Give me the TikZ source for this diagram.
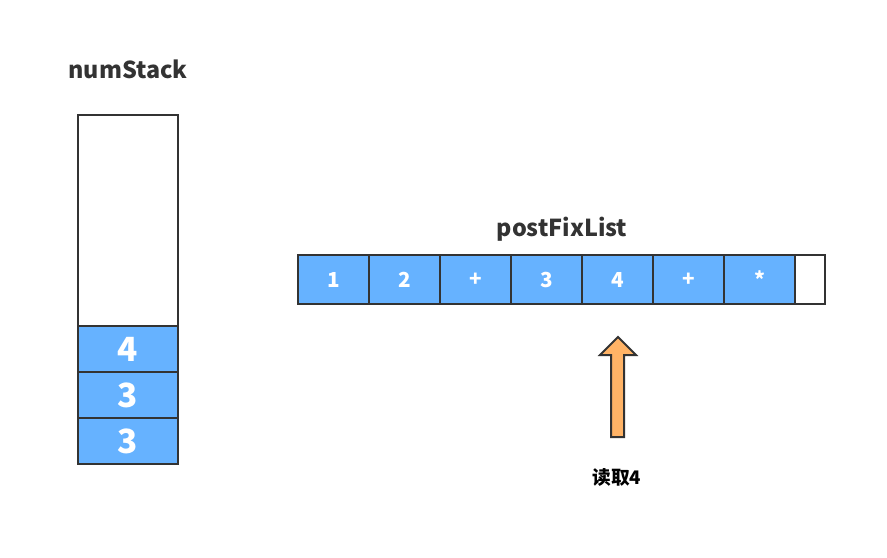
\documentclass[tikz,border=0pt]{standalone}
\usepackage{fontspec}
\setmainfont{Noto Sans CJK SC}
\usetikzlibrary{positioning}
\definecolor{cellblue}{HTML}{66B2FF}
\definecolor{arroworange}{HTML}{FFB366}
\definecolor{linegray}{HTML}{333333}

\begin{document}
\begin{tikzpicture}[x=0.75pt,y=-0.75pt,every node/.style={font=\bfseries},
  cell/.style={draw=linegray,line width=1.5pt,fill=cellblue,text=white,outer sep=0pt,inner sep=0pt,minimum width=53.25pt,minimum height=36.75pt,font=\bfseries\fontsize{15.5}{15.5}\selectfont},
  stackcell/.style={cell,minimum width=75pt,minimum height=34.5pt,font=\bfseries\fontsize{25}{25}\selectfont},
  blank/.style={draw=linegray,line width=1.5pt,fill=white,outer sep=0pt,inner sep=0pt},
  title/.style={text=linegray,font=\bfseries\fontsize{17.5}{17.5}\selectfont}]
\useasboundingbox (0,0) rectangle (887,557);
% stack
\node[title] (stackname) at (128,69) {numStack};
\node[stackcell] (s1) at (128,441) {3};
\node[stackcell,above=0pt of s1] (s2) {3};
\node[stackcell,above=0pt of s2] (s3) {4};
\node[blank,minimum width=75pt,minimum height=158.25pt,above=0pt of s3] (s0) {};
% postfix list
\node[title] (listname) at (562,229) {postFixList};
\node[cell] (l1) at (333.5,279.5) {1};
\foreach \t [count=\i] in {2,+,3,4,+,*}{
  \pgfmathtruncatemacro\j{\i+1}
  \node[cell,right=0pt of l\i] (l\j) {\t};
}
\node[blank,minimum width=22.5pt,minimum height=36.75pt,right=0pt of l7] (l8) {};
% pointer
\draw[draw=linegray,line width=1.5pt,fill=arroworange,line join=miter] (611,437)--(611,355)--(600,355)--(618,337)--(636,355)--(624,355)--(624,437)--cycle;
\node[font=\bfseries\fontsize{14}{14}\selectfont] (read) at (617,477) {读取4};
\end{tikzpicture}
\end{document}
